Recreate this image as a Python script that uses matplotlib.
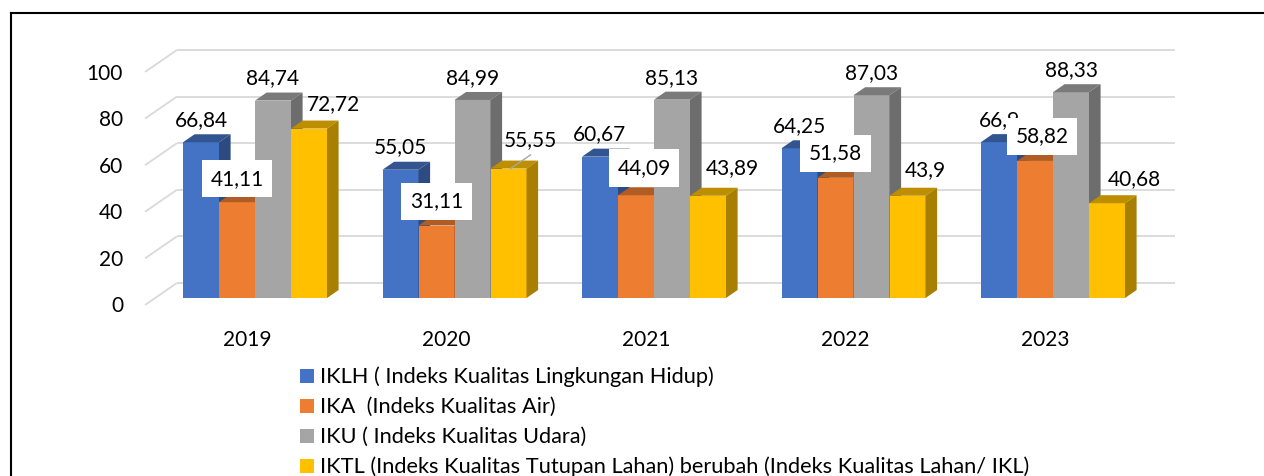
import matplotlib
matplotlib.use("Agg")
import matplotlib.pyplot as plt
from matplotlib.patches import Polygon, Rectangle
from matplotlib.lines import Line2D
import matplotlib.colors as mcolors

# ---------------- data ----------------
years = ["2019", "2020", "2021", "2022", "2023"]
series_names = [
    "IKLH ( Indeks Kualitas Lingkungan Hidup)",
    "IKA  (Indeks Kualitas Air)",
    "IKU ( Indeks Kualitas Udara)",
    "IKTL (Indeks Kualitas Tutupan Lahan) berubah (Indeks Kualitas Lahan/ IKL)",
]
iklh = [66.84, 55.05, 60.67, 64.25, 66.9]
ika = [41.11, 31.11, 44.09, 51.58, 58.82]
iku = [84.74, 84.99, 85.13, 87.03, 88.33]
iktl = [72.72, 55.55, 43.89, 43.9, 40.68]
y_ticks = [0, 20, 40, 60, 80, 100]

series = [iklh, ika, iku, iktl]
colors = ["#4472C4", "#ED7D31", "#A5A5A5", "#FFC000"]

# data-label placement (pixel offsets from default position, style only)
label_dx = [[0, 0, 0, 0, 0], [0, 0, 8, 0, 7], [0, 0, 0, 0, 0], [25, 22, 24, 18, 27]]
label_dy = [[24, 24, 24, 24, 24], [25, 25.5, 29, 26, 26], [23.5, 23.5, 23.5, 23.5, 23.5],
            [25.6, 29.6, 28.7, 26.7, 26]]
label_box = [False, True, False, False]

# ---------------- geometry ----------------
W, H = 1264, 476
PX_X = 199.5   # pixels per category
PX_Y = 2.33    # pixels per value unit
BW = 36 / PX_X
SLOPE = 1.45


def depth(px):
    return px * SLOPE / PX_X, px / PX_Y


plt.rcParams['font.family'] = ['Lato', 'DejaVu Sans']
FS = 15
FS_LEG = 15.7

fig = plt.figure(figsize=(W / 100, H / 100), dpi=100)
ax = fig.add_axes([0, 0, 1, 1])
ax.set_xlim((0 - 255) / PX_X, (W - 255) / PX_X)
ax.set_ylim((305 - H) / PX_Y, 305 / PX_Y)
ax.axis('off')

# ---- walls / gridlines ----
grid_c = "#D9D9D9"
wall_dx, wall_dy = depth(22)
x_front = (145 - 255) / PX_X
x_back_end = (1175 - 255) / PX_X
for v in y_ticks:
    ax.plot([x_front, x_front + wall_dx], [v, v + wall_dy], color=grid_c, lw=1.3,
            zorder=1, solid_capstyle='butt')
    ax.plot([x_front + wall_dx, x_back_end], [v + wall_dy, v + wall_dy], color=grid_c,
            lw=1.3, zorder=1, solid_capstyle='butt')
    ax.text((123 - 255) / PX_X, v - 7.5 / PX_Y, f"{v}", ha='right', va='baseline',
            fontsize=FS, color='black')


def shade(c, f):
    r, g, b = mcolors.to_rgb(c)
    return (r * f, g * f, b * f)


# ---- bars ----
base = 7 / PX_Y
ddx, ddy = depth(8)
z = 2
for i in range(len(years)):
    for k, vals in enumerate(series):
        v = vals[i]
        x0 = i + (k - 2) * BW
        c = colors[k]
        ax.add_patch(Rectangle((x0, base), BW, v, facecolor=c, edgecolor='none', zorder=z))
        top = base + v
        ax.add_patch(Polygon([(x0, top), (x0 + BW, top), (x0 + BW + ddx, top + ddy),
                              (x0 + ddx, top + ddy)], closed=True,
                             facecolor=shade(c, 0.74), edgecolor='none', zorder=z))
        ax.add_patch(Polygon([(x0 + BW, base), (x0 + BW, top), (x0 + BW + ddx, top + ddy),
                              (x0 + BW + ddx, base + ddy)], closed=True,
                             facecolor=shade(c, 0.66), edgecolor='none', zorder=z))
        z += 1

# ---- data labels ----
for k, vals in enumerate(series):
    for i, v in enumerate(vals):
        xc = i + (k - 2) * BW + BW / 2
        top = base + v
        lx = xc + label_dx[k][i] / PX_X
        ly = top + label_dy[k][i] / PX_Y
        txt = f"{v:g}".replace('.', ',')
        kw = {}
        zz = 60
        if label_box[k]:
            kw['bbox'] = dict(boxstyle='square,pad=0.42', facecolor='white', edgecolor='none')
            zz = 80
        ax.text(lx, ly - 7.5 / PX_Y, txt, ha='center', va='baseline', fontsize=FS,
                color='black', zorder=zz, **kw)
        if k == 3 and label_dy[k][i] > 29:
            # leader line
            ax.plot([xc + 2 / PX_X, lx], [top, ly - 16 / PX_Y], color='#A6A6A6', lw=1,
                    zorder=59)

# ---- category labels ----
for i, yr in enumerate(years):
    ax.text(i - 8 / PX_X, (305 - 338) / PX_Y - 7.5 / PX_Y, yr, ha='center',
            va='baseline', fontsize=FS, color='black')

# ---- legend ----
for j, name in enumerate(series_names):
    row_base = 383 + 30 * j
    fig.add_artist(Rectangle((300 / W, 1 - row_base / H), 14 / W, 14 / H,
                             transform=fig.transFigure, facecolor=colors[j],
                             edgecolor='none'))
    fig.text(320 / W, 1 - row_base / H, name, ha='left', va='baseline', fontsize=FS_LEG,
             color='black')

# ---- frame ----
fig.add_artist(Line2D([11 / W, 11 / W], [0, 1 - 13 / H], transform=fig.transFigure,
                      color='black', lw=1.5))
fig.add_artist(Line2D([11 / W, 1], [1 - 13 / H, 1 - 13 / H], transform=fig.transFigure,
                      color='black', lw=1.5))

fig.savefig("out.png", dpi=100)
